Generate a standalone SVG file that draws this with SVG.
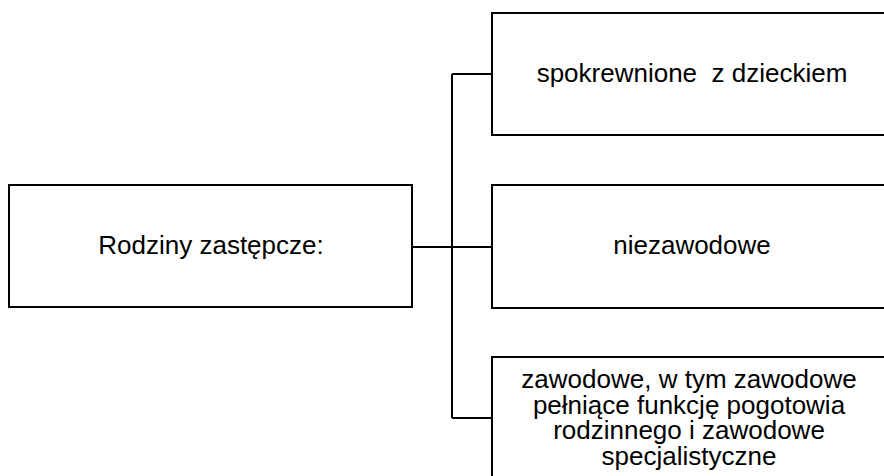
<svg xmlns="http://www.w3.org/2000/svg" width="884" height="476" viewBox="0 0 884 476">
<style>
.box{fill:#fff;stroke:#000;stroke-width:2}
.line{fill:none;stroke:#000;stroke-width:2}
.t{font-family:"Liberation Sans",Arial,sans-serif;font-size:26px;fill:#000;text-anchor:middle}
</style>
<rect width="884" height="476" fill="#fff"/>
<g id="connectors">
<path class="line" d="M452 74 V418"/>
<path class="line" d="M452 74 H492"/>
<path class="line" d="M412 247 H492"/>
<path class="line" d="M452 418 H492"/>
</g>
<g id="root">
<rect class="box" x="9" y="185" width="403" height="122"/>
<text class="t" x="211" y="254">Rodziny zastępcze:</text>
</g>
<g id="spokrewnione">
<rect class="box" x="492" y="13" width="400" height="122"/>
<text class="t" x="692" y="82" xml:space="preserve">spokrewnione  z dzieckiem</text>
</g>
<g id="niezawodowe">
<rect class="box" x="492" y="185" width="400" height="123"/>
<text class="t" x="692" y="254">niezawodowe</text>
</g>
<g id="zawodowe">
<rect class="box" x="492" y="357" width="394" height="130"/>
<text class="t"><tspan x="689" y="388">zawodowe, w tym zawodowe</tspan><tspan x="689" y="413.5">pełniące funkcję pogotowia</tspan><tspan x="689" y="439">rodzinnego i zawodowe</tspan><tspan x="689" y="464.5">specjalistyczne</tspan></text>
</g>
</svg>
